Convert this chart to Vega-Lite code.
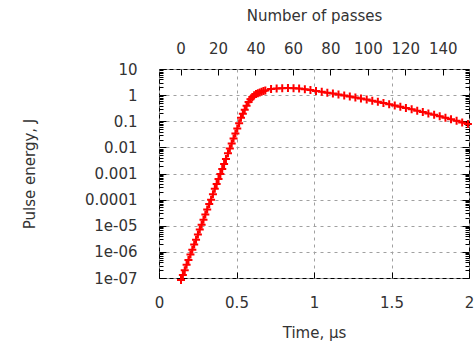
{
  "$schema": "https://vega.github.io/schema/vega-lite/v6.json",
  "width": 310,
  "height": 209,
  "autosize": "none",
  "padding": {"left": 159, "top": 69, "right": 6, "bottom": 67},
  "background": "white",
  "config": {
    "font": "DejaVu Sans",
    "view": {"stroke": "black", "strokeWidth": 1},
    "axis": {
      "domain": false,
      "tickColor": "black",
      "tickWidth": 1,
      "labelFont": "DejaVu Sans",
      "labelFontSize": 15,
      "labelColor": "#333333",
      "titleFont": "DejaVu Sans",
      "titleFontSize": 15,
      "titleFontWeight": "normal",
      "titleColor": "#333333",
      "gridColor": "#a0a0a0",
      "gridDash": [3, 4],
      "gridWidth": 1,
      "labelOverlap": false,
      "labelFlush": false
    }
  },
  "data": {
    "values": [
      {"p": 0, "t": 0.142, "E": 8.3e-8},
      {"p": 1, "t": 0.154, "E": 1.29e-7},
      {"p": 2, "t": 0.166, "E": 2.0e-7},
      {"p": 3, "t": 0.178, "E": 3.2e-7},
      {"p": 4, "t": 0.190, "E": 4.9e-7},
      {"p": 5, "t": 0.203, "E": 7.9e-7},
      {"p": 6, "t": 0.215, "E": 1.2e-6},
      {"p": 7, "t": 0.227, "E": 1.9e-6},
      {"p": 8, "t": 0.239, "E": 2.9e-6},
      {"p": 9, "t": 0.251, "E": 4.6e-6},
      {"p": 10, "t": 0.263, "E": 7.2e-6},
      {"p": 11, "t": 0.275, "E": 1.1e-5},
      {"p": 12, "t": 0.287, "E": 1.7e-5},
      {"p": 13, "t": 0.299, "E": 2.7e-5},
      {"p": 14, "t": 0.311, "E": 4.2e-5},
      {"p": 15, "t": 0.324, "E": 6.8e-5},
      {"p": 16, "t": 0.336, "E": 1.0e-4},
      {"p": 17, "t": 0.348, "E": 1.6e-4},
      {"p": 18, "t": 0.360, "E": 2.6e-4},
      {"p": 19, "t": 0.372, "E": 4.0e-4},
      {"p": 20, "t": 0.384, "E": 6.2e-4},
      {"p": 21, "t": 0.396, "E": 9.6e-4},
      {"p": 22, "t": 0.408, "E": 1.5e-3},
      {"p": 23, "t": 0.420, "E": 2.3e-3},
      {"p": 24, "t": 0.432, "E": 3.6e-3},
      {"p": 25, "t": 0.445, "E": 5.9e-3},
      {"p": 26, "t": 0.457, "E": 9.1e-3},
      {"p": 27, "t": 0.469, "E": 0.014},
      {"p": 28, "t": 0.481, "E": 0.022},
      {"p": 29, "t": 0.493, "E": 0.034},
      {"p": 30, "t": 0.505, "E": 0.053},
      {"p": 31, "t": 0.517, "E": 0.083},
      {"p": 32, "t": 0.529, "E": 0.135},
      {"p": 33, "t": 0.541, "E": 0.195},
      {"p": 34, "t": 0.553, "E": 0.275},
      {"p": 35, "t": 0.565, "E": 0.39},
      {"p": 36, "t": 0.578, "E": 0.54},
      {"p": 37, "t": 0.590, "E": 0.69},
      {"p": 38, "t": 0.602, "E": 0.85},
      {"p": 39, "t": 0.614, "E": 0.98},
      {"p": 40, "t": 0.626, "E": 1.10},
      {"p": 41, "t": 0.638, "E": 1.19},
      {"p": 42, "t": 0.650, "E": 1.27},
      {"p": 43, "t": 0.662, "E": 1.36},
      {"p": 44, "t": 0.674, "E": 1.45},
      {"p": 45, "t": 0.686, "E": 1.51},
      {"p": 48, "t": 0.723, "E": 1.70},
      {"p": 51, "t": 0.759, "E": 1.80},
      {"p": 54, "t": 0.795, "E": 1.85},
      {"p": 57, "t": 0.832, "E": 1.86},
      {"p": 60, "t": 0.868, "E": 1.83},
      {"p": 63, "t": 0.904, "E": 1.78},
      {"p": 66, "t": 0.941, "E": 1.68},
      {"p": 69, "t": 0.977, "E": 1.57},
      {"p": 72, "t": 1.013, "E": 1.44},
      {"p": 75, "t": 1.050, "E": 1.34},
      {"p": 78, "t": 1.086, "E": 1.24},
      {"p": 81, "t": 1.122, "E": 1.15},
      {"p": 84, "t": 1.158, "E": 1.055},
      {"p": 87, "t": 1.195, "E": 0.968},
      {"p": 90, "t": 1.231, "E": 0.887},
      {"p": 93, "t": 1.267, "E": 0.812},
      {"p": 96, "t": 1.303, "E": 0.741},
      {"p": 99, "t": 1.340, "E": 0.673},
      {"p": 102, "t": 1.376, "E": 0.611},
      {"p": 105, "t": 1.412, "E": 0.553},
      {"p": 108, "t": 1.448, "E": 0.499},
      {"p": 111, "t": 1.485, "E": 0.449},
      {"p": 114, "t": 1.521, "E": 0.403},
      {"p": 117, "t": 1.557, "E": 0.361},
      {"p": 120, "t": 1.593, "E": 0.323},
      {"p": 123, "t": 1.630, "E": 0.287},
      {"p": 126, "t": 1.666, "E": 0.255},
      {"p": 129, "t": 1.702, "E": 0.226},
      {"p": 132, "t": 1.738, "E": 0.200},
      {"p": 135, "t": 1.775, "E": 0.176},
      {"p": 138, "t": 1.811, "E": 0.155},
      {"p": 141, "t": 1.848, "E": 0.135},
      {"p": 144, "t": 1.884, "E": 0.119},
      {"p": 147, "t": 1.920, "E": 0.1035},
      {"p": 150, "t": 1.956, "E": 0.090},
      {"p": 153, "t": 1.993, "E": 0.078}
    ]
  },
  "layer": [
    {
      "encoding": {
        "x": {
          "field": "t",
          "type": "quantitative",
          "scale": {"domain": [0, 2], "nice": false, "zero": false},
          "axis": {
            "orient": "bottom",
            "values": [0, 0.5, 1, 1.5, 2],
            "format": "~g",
            "grid": true,
            "tickSize": -6,
            "labelPadding": 23,
            "title": "Time, µs",
            "titlePadding": 15
          }
        },
        "y": {
          "field": "E",
          "type": "quantitative",
          "scale": {"type": "log", "domain": [1e-7, 10], "nice": false},
          "axis": {
            "orient": "left",
            "values": [1e-7, 2e-7, 3e-7, 4e-7, 5e-7, 6e-7, 7e-7, 8e-7, 9e-7, 1e-6, 2e-6, 3e-6, 4e-6, 5e-6, 6e-6, 7e-6, 8e-6, 9e-6, 1e-5, 2e-5, 3e-5, 4e-5, 5e-5, 6e-5, 7e-5, 8e-5, 9e-5, 0.0001, 0.0002, 0.0003, 0.0004, 0.0005, 0.0006, 0.0007, 0.0008, 0.0009, 0.001, 0.002, 0.003, 0.004, 0.005, 0.006, 0.007, 0.008, 0.009, 0.01, 0.02, 0.03, 0.04, 0.05, 0.06, 0.07, 0.08, 0.09, 0.1, 0.2, 0.3, 0.4, 0.5, 0.6, 0.7, 0.8, 0.9, 1, 2, 3, 4, 5, 6, 7, 8, 9, 10],
            "labelExpr": "abs(log(datum.value)/LN10 - round(log(datum.value)/LN10)) < 0.001 ? (datum.value >= 0.00009 ? toString(datum.value) : '1e-0' + toString(round(-log(datum.value)/LN10))) : ''",
            "tickSize": {"condition": {"test": "abs(log(datum.value)/LN10 - round(log(datum.value)/LN10)) < 0.001", "value": -7}, "value": -4},
            "grid": true,
            "gridOpacity": {"condition": {"test": "abs(log(datum.value)/LN10 - round(log(datum.value)/LN10)) < 0.001", "value": 1}, "value": 0},
            "labelPadding": 29,
            "title": "Pulse energy, J",
            "titlePadding": 47
          }
        }
      },
      "layer": [
        {
          "mark": {"type": "line", "color": "#ff0000", "strokeWidth": 1.5, "clip": false}
        },
        {
          "mark": {"type": "point", "shape": "M-1,0H1M0,-1V1", "filled": false, "stroke": "#ff0000", "strokeWidth": 2, "size": 64, "opacity": 1}
        }
      ]
    },
    {
      "mark": {"type": "point", "opacity": 0},
      "encoding": {
        "x": {
          "field": "p",
          "type": "quantitative",
          "scale": {"domain": [-11.5, 154], "nice": false, "zero": false},
          "axis": {
            "orient": "top",
            "values": [0, 20, 40, 60, 80, 100, 120, 140],
            "grid": false,
            "tickSize": -6,
            "labelPadding": 19,
            "title": "Number of passes",
            "titlePadding": 18
          }
        },
        "y": {
          "field": "E",
          "type": "quantitative",
          "scale": {"type": "log", "domain": [1e-7, 10], "nice": false},
          "axis": null
        }
      }
    },
    {
      "mark": {"type": "point", "opacity": 0},
      "encoding": {
        "y": {
          "field": "E",
          "type": "quantitative",
          "scale": {"type": "log", "domain": [1e-7, 10], "nice": false},
          "axis": {
            "orient": "right",
            "values": [1e-7, 2e-7, 3e-7, 4e-7, 5e-7, 6e-7, 7e-7, 8e-7, 9e-7, 1e-6, 2e-6, 3e-6, 4e-6, 5e-6, 6e-6, 7e-6, 8e-6, 9e-6, 1e-5, 2e-5, 3e-5, 4e-5, 5e-5, 6e-5, 7e-5, 8e-5, 9e-5, 0.0001, 0.0002, 0.0003, 0.0004, 0.0005, 0.0006, 0.0007, 0.0008, 0.0009, 0.001, 0.002, 0.003, 0.004, 0.005, 0.006, 0.007, 0.008, 0.009, 0.01, 0.02, 0.03, 0.04, 0.05, 0.06, 0.07, 0.08, 0.09, 0.1, 0.2, 0.3, 0.4, 0.5, 0.6, 0.7, 0.8, 0.9, 1, 2, 3, 4, 5, 6, 7, 8, 9, 10],
            "labels": false,
            "grid": false,
            "title": null,
            "tickSize": {"condition": {"test": "abs(log(datum.value)/LN10 - round(log(datum.value)/LN10)) < 0.001", "value": -7}, "value": -4}
          }
        }
      }
    }
  ],
  "resolve": {
    "scale": {"x": "independent"},
    "axis": {"x": "independent", "y": "independent"}
  }
}
